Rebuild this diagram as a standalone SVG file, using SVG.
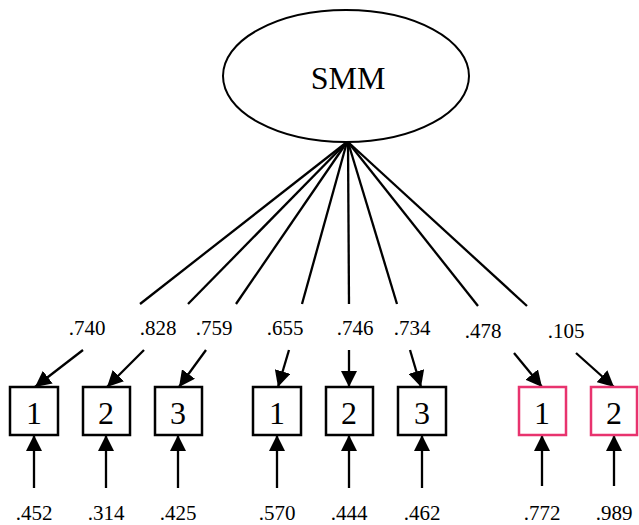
<svg xmlns="http://www.w3.org/2000/svg" width="639" height="525" viewBox="0 0 639 525">
  <style>
    text { font-family: "Liberation Serif", "Times New Roman", serif; fill: #000; text-anchor: middle; }
    .big { font-size: 32px; }
    .lbl { font-size: 21px; }
    .box { fill: #fff; stroke: #000; stroke-width: 2.5; }
    .box.alt { stroke: #e8336e; }
    .edge { stroke: #000; stroke-width: 2.3; fill: none; }
  </style>
  <defs>
    <marker id="arr" viewBox="0 0 10 10" refX="10" refY="5" markerWidth="7" markerHeight="7" markerUnits="strokeWidth" orient="auto">
      <path d="M0,0 L10,5 L0,10 z" fill="#000"/>
    </marker>
  </defs>

  <!-- latent factor -->
  <g id="SMM">
    <ellipse cx="346" cy="76" rx="123" ry="66" fill="#fff" stroke="#000" stroke-width="2"/>
    <text class="big" x="348" y="89">SMM</text>
  </g>

  <!-- loadings and residual paths -->
  <g id="connectors">
    <line class="edge" x1="347" y1="142" x2="140" y2="304"/>
    <line class="edge" x1="83" y1="350" x2="35" y2="387" marker-end="url(#arr)"/>
    <line class="edge" x1="347" y1="142" x2="188" y2="304"/>
    <line class="edge" x1="144" y1="350" x2="107" y2="387" marker-end="url(#arr)"/>
    <line class="edge" x1="347" y1="142" x2="236" y2="304"/>
    <line class="edge" x1="206" y1="350" x2="179" y2="387" marker-end="url(#arr)"/>
    <line class="edge" x1="347" y1="142" x2="302" y2="304"/>
    <line class="edge" x1="289" y1="350" x2="278" y2="387" marker-end="url(#arr)"/>
    <line class="edge" x1="348" y1="142" x2="349" y2="304"/>
    <line class="edge" x1="349" y1="350" x2="349" y2="387" marker-end="url(#arr)"/>
    <line class="edge" x1="348" y1="142" x2="397" y2="304"/>
    <line class="edge" x1="410" y1="350" x2="421" y2="387" marker-end="url(#arr)"/>
    <line class="edge" x1="348" y1="142" x2="478" y2="306"/>
    <line class="edge" x1="514" y1="353" x2="542" y2="387" marker-end="url(#arr)"/>
    <line class="edge" x1="348" y1="142" x2="527" y2="306"/>
    <line class="edge" x1="576" y1="353" x2="614" y2="387" marker-end="url(#arr)"/>

    <line class="edge" x1="34" y1="488" x2="34" y2="435" marker-end="url(#arr)"/>
    <line class="edge" x1="106" y1="488" x2="106" y2="435" marker-end="url(#arr)"/>
    <line class="edge" x1="178" y1="488" x2="178" y2="435" marker-end="url(#arr)"/>
    <line class="edge" x1="277" y1="488" x2="277" y2="435" marker-end="url(#arr)"/>
    <line class="edge" x1="349" y1="488" x2="349" y2="435" marker-end="url(#arr)"/>
    <line class="edge" x1="422" y1="488" x2="422" y2="435" marker-end="url(#arr)"/>
    <line class="edge" x1="542" y1="486" x2="542" y2="435" marker-end="url(#arr)"/>
    <line class="edge" x1="614" y1="486" x2="614" y2="435" marker-end="url(#arr)"/>
  </g>

  <!-- loading values -->
  <g id="loadings">
    <text class="lbl" x="87" y="335">.740</text>
    <text class="lbl" x="158" y="335">.828</text>
    <text class="lbl" x="214" y="335">.759</text>
    <text class="lbl" x="285" y="335">.655</text>
    <text class="lbl" x="355" y="335">.746</text>
    <text class="lbl" x="412" y="335">.734</text>
    <text class="lbl" x="483" y="338">.478</text>
    <text class="lbl" x="566" y="338">.105</text>
  </g>

  <!-- indicators -->
  <g id="item-a1"><rect class="box" x="10" y="387" width="48" height="48"/><text class="big" x="34" y="424">1</text></g>
  <g id="item-a2"><rect class="box" x="83" y="387" width="47" height="48"/><text class="big" x="106" y="424">2</text></g>
  <g id="item-a3"><rect class="box" x="155" y="387" width="47" height="48"/><text class="big" x="178" y="424">3</text></g>
  <g id="item-b1"><rect class="box" x="253" y="387" width="48" height="48"/><text class="big" x="277" y="424">1</text></g>
  <g id="item-b2"><rect class="box" x="326" y="387" width="47" height="48"/><text class="big" x="349" y="424">2</text></g>
  <g id="item-b3"><rect class="box" x="398" y="387" width="48" height="48"/><text class="big" x="422" y="424">3</text></g>
  <g id="item-c1"><rect class="box alt" x="519" y="387" width="47" height="48"/><text class="big" x="542" y="424">1</text></g>
  <g id="item-c2"><rect class="box alt" x="591" y="387" width="46" height="48"/><text class="big" x="614" y="424">2</text></g>

  <!-- residual variances -->
  <g id="residuals">
    <text class="lbl" x="34" y="520">.452</text>
    <text class="lbl" x="106" y="520">.314</text>
    <text class="lbl" x="178" y="520">.425</text>
    <text class="lbl" x="277" y="520">.570</text>
    <text class="lbl" x="349" y="520">.444</text>
    <text class="lbl" x="422" y="520">.462</text>
    <text class="lbl" x="542" y="520">.772</text>
    <text class="lbl" x="614" y="520">.989</text>
  </g>
</svg>
